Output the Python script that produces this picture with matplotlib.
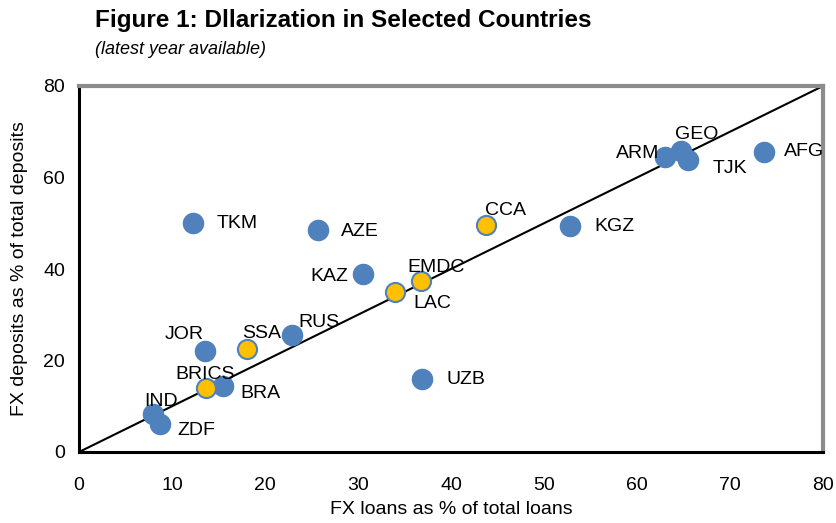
import matplotlib
matplotlib.use("Agg")
import matplotlib.pyplot as plt

plt.rcParams['font.family'] = ['Liberation Sans Narrow', 'Liberation Sans', 'DejaVu Sans']

countries = ["TKM", "AZE", "KAZ", "KGZ", "RUS", "JOR", "BRA", "IND", "ZDF", "UZB",
             "ARM", "GEO", "TJK", "AFG"]
fx_loans = [12.3, 25.7, 30.5, 52.8, 22.9, 13.5, 15.5, 8.0, 8.7, 36.9,
            63.0, 64.7, 65.5, 73.7]
fx_deposits = [50.0, 48.5, 38.9, 49.4, 25.6, 22.1, 14.4, 8.3, 6.1, 16.0,
               64.5, 65.8, 63.8, 65.6]

groups = ["CCA", "EMDC", "LAC", "SSA", "BRICS"]
grp_loans = [43.8, 36.8, 34.0, 18.1, 13.7]
grp_deposits = [49.6, 37.4, 35.0, 22.5, 14.0]

# label offsets in pixels (dx, dy, ha)
offsets = {
    "TKM": (23, 0, "left"), "AZE": (23, -1, "left"), "KAZ": (-14, -2, "right"),
    "KGZ": (24, -1, "left"), "RUS": (6, 12, "left"), "JOR": (-1, 16, "right"),
    "BRA": (17, -7, "left"), "IND": (-9, 13, "left"), "ZDF": (17, -6, "left"),
    "UZB": (24, -1, "left"), "ARM": (-6, 3, "right"), "GEO": (-6, 16, "left"),
    "TJK": (24, -8, "left"), "AFG": (20, 0, "left"),
    "CCA": (-1, 15, "left"), "EMDC": (-14, 13, "left"), "LAC": (18, -12, "left"),
    "SSA": (-5, 16, "left"), "BRICS": (-31, 13, "left"),
}

fig = plt.figure(figsize=(8.37, 5.23), dpi=100)
ax = fig.add_axes([79/837, 1-452/523, (823-79)/837, (452-86)/523])

ax.plot([0, 80], [0, 80], color="black", lw=1.5, zorder=1)
ax.scatter(fx_loans, fx_deposits, s=210, color="#4F81BD", edgecolor="#4F81BD", lw=1, zorder=3)
ax.scatter(grp_loans, grp_deposits, s=190, color="#FFC000", edgecolor="#4F81BD", lw=1.5, zorder=4)

px = 72/100
for names, xs, ys in [(countries, fx_loans, fx_deposits), (groups, grp_loans, grp_deposits)]:
    for n, x, y in zip(names, xs, ys):
        dx, dy, ha = offsets[n]
        ax.annotate(n, (x, y), xytext=(dx*px, dy*px), textcoords="offset points",
                    ha=ha, va="center", fontsize=14, zorder=5)

ax.set_xlim(0, 80)
ax.set_ylim(0, 80)
ax.set_xticks(range(0, 81, 10))
ax.set_yticks(range(0, 81, 20))
ax.tick_params(axis="x", length=0, labelsize=14, pad=18)
ax.tick_params(axis="y", length=0, labelsize=14, pad=10)
for s in ["left", "bottom"]:
    ax.spines[s].set_color("black")
    ax.spines[s].set_linewidth(2.2)
for s in ["top", "right"]:
    ax.spines[s].set_color("#8C8C8C")
    ax.spines[s].set_linewidth(3)

ax.set_xlabel("FX loans as % of total loans", fontsize=14, labelpad=5)
ax.set_ylabel("FX deposits as % of total deposits", fontsize=14, labelpad=11)

fig.text(95/837, 1-20/523, "Figure 1: Dllarization in Selected Countries",
         fontsize=17.5, fontweight="bold", va="center", ha="left")
fig.text(95/837, 1-49/523, "(latest year available)", fontsize=13, style="italic",
         va="center", ha="left")

fig.savefig("out.png", dpi=100)
